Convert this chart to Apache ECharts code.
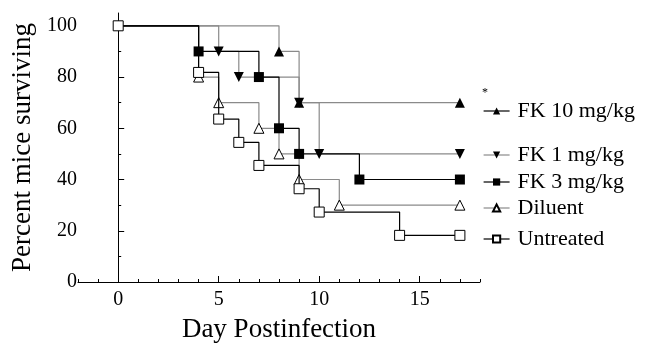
<!DOCTYPE html>
<html>
<head>
<meta charset="utf-8">
<script src="https://cdn.jsdelivr.net/npm/echarts@6/dist/echarts.min.js"></script>
<style>
  html, body { margin: 0; padding: 0; background: #fff; }
  #chart { width: 653px; height: 346px; }
</style>
</head>
<body>
<div id="chart"></div>
<script>
// Kaplan-Meier survival steps
const seriesNames = ['FK 10 mg/kg', 'FK 1 mg/kg', 'FK 3 mg/kg', 'Diluent', 'Untreated'];

const fk10Days = [0, 8, 9, 17];
const fk10Pct = [100, 90, 70, 70];

const fk1Days = [0, 5, 6, 9, 10, 17];
const fk1Pct = [100, 90, 80, 70, 50, 50];

const fk3Days = [0, 4, 7, 8, 9, 12, 17];
const fk3Pct = [100, 90, 80, 60, 50, 40, 40];

const diluentDays = [0, 4, 5, 7, 8, 9, 11, 17];
const diluentPct = [100, 80, 70, 60, 50, 40, 30, 30];

const untreatedDays = [0, 4, 5, 6, 7, 9, 10, 14, 17];
const untreatedPct = [100, 81.8, 63.6, 54.5, 45.5, 36.4, 27.3, 18.2, 18.2];

const xMinorTicks = [-2, -1, 0, 1, 2, 3, 4, 5, 6, 7, 8, 9, 10, 11, 12, 13, 14, 15, 16, 17, 18];
const xMajorTicks = [0, 5, 10, 15];
const yMinorTicks = [0, 10, 20, 30, 40, 50, 60, 70, 80, 90, 100];
const yMajorTicks = [0, 20, 40, 60, 80, 100];

const font = '"Liberation Serif", "Times New Roman", serif';
const GRAY = '#8a8a8a';

const chart = echarts.init(document.getElementById('chart'));

function makeSeries(name, days, pct, opts) {
  return {
    name: name,
    type: 'line',
    step: 'end',
    data: days.map((d, i) =>
      (i === 0 && opts.hideFirst) ? { value: [d, pct[i]], symbol: 'none' } : [d, pct[i]]
    ),
    symbol: opts.symbol,
    symbolSize: opts.size || 10,
    symbolRotate: opts.rotate || 0,
    showAllSymbol: true,
    lineStyle: { color: opts.line, width: 1.2 },
    itemStyle: { color: opts.fill, borderColor: '#000', borderWidth: opts.border || 0 },
    emphasis: { disabled: true },
    z: opts.z
  };
}

// legend rows sit next to the line ends
const legendTops = [100, 144, 171, 197, 228];
const legendLines = ['#000', GRAY, '#000', GRAY, '#000'];

const option = {
  animation: false,
  backgroundColor: '#fff',
  grid: { left: 78, right: 173, top: 13, bottom: 64, outerBoundsMode: 'none' },
  xAxis: [
    {
      type: 'value',
      min: -2,
      max: 18,
      interval: 1,
      axisLine: { lineStyle: { color: '#000', width: 1 } },
      axisTick: { inside: true, length: 3, customValues: xMinorTicks, lineStyle: { color: '#000' } },
      axisLabel: {
        customValues: xMajorTicks,
        fontFamily: font,
        fontSize: 20,
        color: '#000',
        margin: 8
      },
      splitLine: { show: false },
      name: 'Day Postinfection',
      nameLocation: 'middle',
      nameGap: 34,
      nameTextStyle: { fontFamily: font, fontSize: 27, color: '#000' }
    },
    {
      type: 'value',
      min: -2,
      max: 18,
      position: 'bottom',
      axisLine: { show: false },
      axisTick: { inside: true, length: 6, customValues: xMajorTicks, lineStyle: { color: '#000' } },
      axisLabel: { show: false },
      splitLine: { show: false }
    }
  ],
  yAxis: [
    {
      type: 'value',
      min: 0,
      max: 105,
      interval: 10,
      axisLine: { show: true, lineStyle: { color: '#000', width: 1 } },
      axisTick: { show: true, inside: true, length: 3, customValues: yMinorTicks, lineStyle: { color: '#000' } },
      axisLabel: {
        customValues: yMajorTicks,
        fontFamily: font,
        fontSize: 20,
        color: '#000',
        margin: 1
      },
      splitLine: { show: false },
      name: 'Percent mice surviving',
      nameLocation: 'middle',
      nameGap: 42,
      nameTextStyle: { fontFamily: font, fontSize: 27, color: '#000' }
    },
    {
      type: 'value',
      min: 0,
      max: 105,
      position: 'left',
      axisLine: { show: false },
      axisTick: { show: true, inside: true, length: 6, customValues: yMajorTicks, lineStyle: { color: '#000' } },
      axisLabel: { show: false },
      splitLine: { show: false }
    }
  ],
  legend: seriesNames.map((n, i) => ({
    data: [n],
    left: 483,
    top: legendTops[i],
    itemWidth: 26,
    itemHeight: 9,
    itemGap: 0,
    padding: 0,
    selectedMode: false,
    lineStyle: { color: legendLines[i], width: 1.2 },
    textStyle: { fontFamily: font, fontSize: 22, color: '#000', padding: [0, 0, 0, 3] }
  })),
  graphic: [
    {
      type: 'text',
      left: 482,
      top: 87,
      style: { text: '*', font: '12px ' + font, fill: '#000' }
    }
  ],
  series: [
    makeSeries(seriesNames[0], fk10Days, fk10Pct, { symbol: 'triangle', fill: '#000', line: GRAY, hideFirst: true, z: 2 }),
    makeSeries(seriesNames[1], fk1Days, fk1Pct, { symbol: 'triangle', rotate: 180, fill: '#000', line: GRAY, hideFirst: true, z: 2 }),
    makeSeries(seriesNames[2], fk3Days, fk3Pct, { symbol: 'rect', fill: '#000', line: '#000', hideFirst: true, z: 3 }),
    makeSeries(seriesNames[3], diluentDays, diluentPct, { symbol: 'triangle', fill: '#fff', border: 1, line: GRAY, hideFirst: true, z: 2 }),
    makeSeries(seriesNames[4], untreatedDays, untreatedPct, { symbol: 'rect', fill: '#fff', border: 1, line: '#000', hideFirst: false, z: 4 })
  ]
};

chart.setOption(option);
</script>
</body>
</html>
